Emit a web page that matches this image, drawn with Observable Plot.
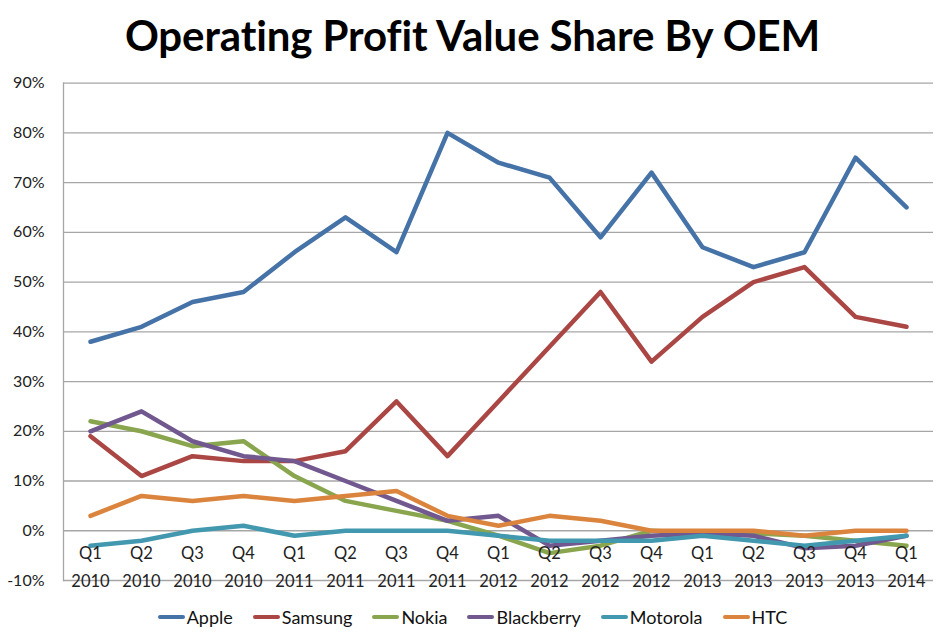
<!DOCTYPE html>
<html>
<head>
<meta charset="utf-8">
<script src="https://cdn.jsdelivr.net/npm/d3@7"></script>
<script src="https://cdn.jsdelivr.net/npm/@observablehq/plot@0.6"></script>
<style>
  body { margin: 0; background: #fff; font-family: Lato, "Open Sans", sans-serif; }
  #wrap { width: 945px; height: 636px; position: relative; overflow: hidden; }
  #title { position: absolute; left: 0; top: 0; width: 945px; height: 70px; text-align: center;
           font: bold 42px Lato, sans-serif; line-height: 70px; color: #000; letter-spacing: -0.1px; }
  #chart { position: absolute; left: 0; top: 70px; }
  #legend { position: absolute; left: 0; top: 602px; width: 945px; height: 30px; display: flex;
            justify-content: center; font: 18px Lato, sans-serif; color: #111; }
  .item { display: flex; align-items: center; margin: 0 10px; }
  .swatch { width: 27px; height: 4px; border-radius: 2px; margin-right: 2px; }
</style>
</head>
<body>
<div id="wrap">
  <div id="title">Operating Profit Value Share By OEM</div>
  <div id="chart"></div>
  <div id="legend"></div>
</div>
<script>
const quarters = ["Q1","Q2","Q3","Q4","Q1","Q2","Q3","Q4","Q1","Q2","Q3","Q4","Q1","Q2","Q3","Q4","Q1"];
const years = ["2010","2010","2010","2010","2011","2011","2011","2011","2012","2012","2012","2012","2013","2013","2013","2013","2014"];
const seriesNames = ["Apple","Samsung","Nokia","Blackberry","Motorola","HTC"];
const seriesColors = ["#4572A7","#AA4643","#89A54E","#71588F","#4198AF","#DB843D"];
const apple      = [38, 41, 46, 48, 56, 63, 56, 80, 74, 71, 59, 72, 57, 53, 56, 75, 65];
const samsung    = [19, 11, 15, 14, 14, 16, 26, 15, 26, 37, 48, 34, 43, 50, 53, 43, 41];
const nokia      = [22, 20, 17, 18, 11, 6, 4, 2, -1, -4.5, -3, 0, -0.5, -0.5, -1, -2, -3];
const blackberry = [20, 24, 18, 15, 14, 10, 6, 2, 3, -3, -2, -1, -0.5, -1, -3.5, -3, -1];
const motorola   = [-3, -2, 0, 1, -1, 0, 0, 0, -1, -2, -2, -2, -1, -2, -3, -2, -1];
const htc        = [3, 7, 6, 7, 6, 7, 8, 3, 1, 3, 2, 0, 0, 0, -1, 0, 0];
const yTicks = [-10, 0, 10, 20, 30, 40, 50, 60, 70, 80, 90];

const allSeries = [apple, samsung, nokia, blackberry, motorola, htc];
const labels = quarters.map((q, i) => q + "\n" + years[i]);
const rows = [];
allSeries.forEach((vals, s) => vals.forEach((v, i) => rows.push({series: seriesNames[s], x: labels[i], y: v})));

const chart = Plot.plot({
  width: 945,
  height: 530,
  marginTop: 12.6,
  marginBottom: 20,
  marginLeft: 63,
  marginRight: 12,
  style: {fontFamily: "Lato, sans-serif", fontSize: "16px", color: "#222", background: "#fff"},
  x: {type: "point", domain: labels, padding: 0.5, axis: null},
  y: {domain: [-10, 90], axis: null},
  color: {domain: seriesNames, range: seriesColors},
  marks: [
    Plot.ruleY(yTicks, {stroke: "#a6a6a6", strokeWidth: 1.3}),
    Plot.frame({anchor: "left", stroke: "#a6a6a6", strokeWidth: 1.3}),
    Plot.axisY({ticks: yTicks, tickSize: 0, tickPadding: 19, tickFormat: d => d + "%", fontSize: 16, fill: "#222", label: null}),
    Plot.line(rows, {x: "x", y: "y", z: "series", stroke: "series", strokeWidth: 4.5, strokeLinejoin: "round", strokeLinecap: "round"}),
    Plot.text(labels, {x: d => d, y: () => 0, text: d => d, lineAnchor: "top", dy: 9, lineHeight: 1.68, fontSize: 16.5, fill: "#222"})
  ]
});
document.getElementById("chart").appendChild(chart);

const legend = document.getElementById("legend");
seriesNames.forEach((name, i) => {
  const item = document.createElement("div");
  item.className = "item";
  const sw = document.createElement("div");
  sw.className = "swatch";
  sw.style.background = seriesColors[i];
  const t = document.createElement("span");
  t.textContent = name;
  item.appendChild(sw); item.appendChild(t);
  legend.appendChild(item);
});
</script>
</body>
</html>
